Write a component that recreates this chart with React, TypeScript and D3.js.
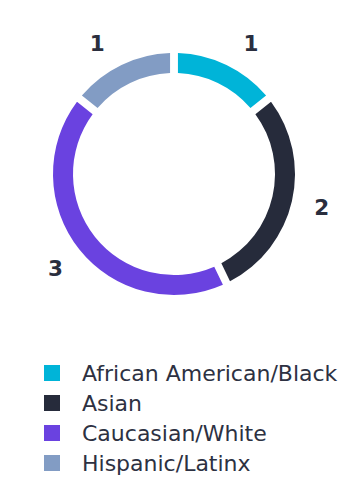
import React from "react";
import * as d3 from "d3";

const categories = ["African American/Black", "Asian", "Caucasian/White", "Hispanic/Latinx"];
const values = [1, 2, 3, 1];
const colors = ["#00b4d8", "#262b3b", "#6a42e0", "#829cc4"];

const W = 346;
const H = 480;
const cx = 174;
const cy = 174;
const outerR = 121;
const innerR = 101;
const labelR = 151.5;
const minTopAngle = (30.5 * Math.PI) / 180;

export default function App() {
  const pie = d3.pie<number>().sort(null).value((d) => d)(values);
  const arc = d3
    .arc<d3.PieArcDatum<number>>()
    .innerRadius(innerR)
    .outerRadius(outerR)
    .padAngle(0.05);

  const legendY = d3.scaleBand<number>().domain(d3.range(categories.length)).range([358, 478]);

  return (
    <svg
      width={W}
      height={H}
      style={{ position: "absolute", left: 0, top: 0, fontFamily: "DejaVu Sans, sans-serif" }}
    >
      <g transform={`translate(${cx},${cy})`}>
        {pie.map((p, i) => (
          <path key={i} d={arc(p) || ""} fill={colors[i]} />
        ))}
        {pie.map((p, i) => {
          let a = (p.startAngle + p.endAngle) / 2;
          // keep labels near the top apart from each other
          if (a < minTopAngle) a = minTopAngle;
          else if (a > 2 * Math.PI - minTopAngle) a = 2 * Math.PI - minTopAngle;
          const x = labelR * Math.sin(a);
          const y = -labelR * Math.cos(a);
          return (
            <text
              key={i}
              x={x}
              y={y}
              textAnchor="middle"
              dominantBaseline="central"
              fontSize={21.5}
              fontWeight="bold"
              fill="#2a2e3e"
            >
              {values[i]}
            </text>
          );
        })}
      </g>
      {categories.map((c, i) => {
        const y = (legendY(i) as number) + legendY.bandwidth() / 2;
        return (
          <g key={c}>
            <rect x={44} y={y - 8} width={16} height={16} fill={colors[i]} />
            <text x={82} y={y} dominantBaseline="central" fontSize={22} fill="#2d3142">
              {c}
            </text>
          </g>
        );
      })}
    </svg>
  );
}
